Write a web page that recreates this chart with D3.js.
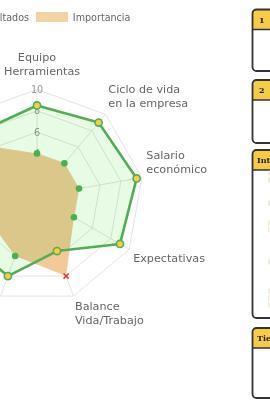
<!DOCTYPE html>
<html>
<head>
<meta charset="utf-8">
<script src="https://cdn.jsdelivr.net/npm/d3@7"></script>
<style>
  body { margin: 0; background: #fff; }
  svg { display: block; font-family: "DejaVu Sans", sans-serif; }
</style>
</head>
<body>
<div id="chart"></div>
<script>
// axis labels (one entry per line), clockwise from the top
const labels = [
  ["Equipo", "y Herramientas"],
  ["Ciclo de vida", "en la empresa"],
  ["Salario", "económico"],
  ["Expectativas"],
  ["Balance", "Vida/Trabajo"],
  ["Reconocimiento"],
  ["Ambiente", "laboral"],
  ["Desarrollo", "profesional"],
  ["Liderazgo"]
];
const resultados = [8.5, 9, 9.5, 9, 5.5, 8, 8, 9, 8];
const importancia = [4, 4, 4, 4, 8, 6, 5, 7, 6];
const tickValues = [2, 4, 6, 8, 10];
const seriesNames = ["Resultados", "Importancia"];
const cardTitles = ["1", "2", "Intereses", "Tiempo"];

const W = 270, H = 400;
const cx = 37, cy = 196, R = 106.5;

const svg = d3.select("#chart").append("svg")
    .attr("width", W)
    .attr("height", H);

const rScale = d3.scaleLinear().domain([0, 10]).range([0, R]);
const step = 2 * Math.PI / labels.length;
const angles = d3.range(labels.length).map(i => i * step);

const g = svg.append("g").attr("transform", `translate(${cx},${cy})`);

// grid rings
const ring = d3.lineRadial()
    .angle((d, i) => angles[i])
    .radius(d => rScale(d))
    .curve(d3.curveLinearClosed);

g.selectAll(".ring")
    .data(tickValues)
    .enter()
    .append("path")
    .attr("class", "ring")
    .attr("d", v => ring(angles.map(() => v)))
    .attr("fill", "none")
    .attr("stroke", "#e4e4e4")
    .attr("stroke-width", 1);

// angle lines
g.selectAll(".spoke")
    .data(angles)
    .enter()
    .append("line")
    .attr("x1", 0).attr("y1", 0)
    .attr("x2", a => rScale(10) * Math.sin(a))
    .attr("y2", a => -rScale(10) * Math.cos(a))
    .attr("stroke", "#e4e4e4")
    .attr("stroke-width", 1);

// tick labels (drawn under the data)
g.selectAll(".tick")
    .data(tickValues)
    .enter()
    .append("text")
    .attr("x", 0)
    .attr("y", v => -rScale(v))
    .attr("text-anchor", "middle")
    .attr("dominant-baseline", "central")
    .attr("font-size", "9.6px")
    .attr("fill", "#999")
    .text(v => v);

// point labels, placed like Chart.js does
const lineH = 14;
labels.forEach((lines, i) => {
  const deg = Math.round(angles[i] * 180 / Math.PI);
  const d = rScale(10) + 4.5 + (i === 0 ? 6 : 0);
  const px = d * Math.sin(angles[i]);
  const py = -d * Math.cos(angles[i]);
  const h = lines.length * lineH;
  let top = py;
  if (deg === 90 || deg === 270) top = py - h / 2;
  else if (deg > 270 || deg < 90) top = py - h;
  const anchor = (deg === 0 || deg === 180) ? "middle" : (deg < 180 ? "start" : "end");
  const t = g.append("text")
      .attr("text-anchor", anchor)
      .attr("font-size", "11.2px")
      .attr("fill", "#666");
  lines.forEach((ln, j) => {
    t.append("tspan")
        .attr("x", px)
        .attr("y", top + (j + 0.5) * lineH - 0.5)
        .attr("dominant-baseline", "central")
        .text(ln);
  });
});

const shape = d3.lineRadial()
    .angle((d, i) => angles[i])
    .radius(d => rScale(d))
    .curve(d3.curveLinearClosed);

// Importancia
g.append("path")
    .attr("d", shape(importancia))
    .attr("fill", "#f2ca9a")
    .attr("stroke", "none");

// Resultados
g.append("path")
    .attr("d", shape(resultados))
    .attr("fill", "#e8fbe5")
    .style("mix-blend-mode", "multiply")
    .attr("stroke", "none");
g.append("path")
    .attr("d", shape(resultados))
    .attr("fill", "none")
    .attr("stroke", "#54ac57")
    .attr("stroke-width", 2.6)
    .attr("stroke-linejoin", "round");

// importance points: green if met, red cross if not
importancia.forEach((v, i) => {
  const x = rScale(v) * Math.sin(angles[i]);
  const y = -rScale(v) * Math.cos(angles[i]);
  if (resultados[i] >= v) {
    g.append("circle")
        .attr("cx", x).attr("cy", y).attr("r", 3.3)
        .attr("fill", "#4caf50");
  } else {
    const s = 2.6;
    g.append("path")
        .attr("d", `M${x - s},${y - s}L${x + s},${y + s}M${x - s},${y + s}L${x + s},${y - s}`)
        .attr("stroke", "#e53935")
        .attr("stroke-width", 1.6);
  }
});

// result points
g.selectAll(".rpt")
    .data(resultados)
    .enter()
    .append("circle")
    .attr("cx", (v, i) => rScale(v) * Math.sin(angles[i]))
    .attr("cy", (v, i) => -rScale(v) * Math.cos(angles[i]))
    .attr("r", 3.6)
    .attr("fill", "#f5d03c")
    .attr("stroke", "#54ac57")
    .attr("stroke-width", 1.6);

// legend
const legend = svg.append("g").attr("font-size", "9.6px").attr("fill", "#666");
const boxW = 32, boxH = 10, legY = 12;
const legendFill = ["#e8fbe5", "#f2d3a6"];
const legendStroke = ["#54ac57", "none"];
const txt0 = legend.append("text").text(seriesNames[0]).attr("dominant-baseline", "central");
const w0 = txt0.node().getComputedTextLength();
const box1X = 36;
const txt0End = box1X - 7;
txt0.attr("x", txt0End - w0).attr("y", legY + boxH / 2);
legend.append("rect")
    .attr("x", txt0End - w0 - 4.8 - boxW).attr("y", legY)
    .attr("width", boxW).attr("height", boxH)
    .attr("fill", legendFill[0]).attr("stroke", legendStroke[0]);
legend.append("rect")
    .attr("x", box1X).attr("y", legY)
    .attr("width", boxW).attr("height", boxH)
    .attr("fill", legendFill[1]);
legend.append("text")
    .attr("x", box1X + boxW + 4.8).attr("y", legY + boxH / 2)
    .attr("dominant-baseline", "central")
    .text(seriesNames[1]);

// side cards (clipped by the page edge)
const cardTops = [9.5, 80, 150, 328];
const cardBottoms = [71, 143, 318, 398];
const cards = svg.append("g");
cardTitles.forEach((title, i) => {
  const x = 252.5, y = cardTops[i], h = cardBottoms[i] - cardTops[i];
  cards.append("rect")
      .attr("x", x).attr("y", y).attr("width", 60).attr("height", h)
      .attr("rx", 4).attr("fill", "#fff");
  cards.append("path")
      .attr("d", `M${x},${y + 20}V${y + 4}Q${x},${y} ${x + 4},${y}H${x + 60}V${y + 20}Z`)
      .attr("fill", "#f6cb47");
  cards.append("line")
      .attr("x1", x).attr("x2", x + 60).attr("y1", y + 20).attr("y2", y + 20)
      .attr("stroke", "#333").attr("stroke-width", 1.5);
  cards.append("rect")
      .attr("x", x).attr("y", y).attr("width", 60).attr("height", h)
      .attr("rx", 4).attr("fill", "none")
      .attr("stroke", "#333").attr("stroke-width", 1.8);
  cards.append("text")
      .attr("x", title.length === 1 ? 259 : 257).attr("y", y + 10)
      .attr("dominant-baseline", "central")
      .attr("font-family", "'DejaVu Serif', serif")
      .attr("font-weight", "bold")
      .attr("font-size", "8px")
      .attr("fill", "#222")
      .text(title);
});

// faint clipped text marks inside the third card
const markYs = [173, 180, 203, 223, 230, 262, 291, 298, 305];
cards.selectAll(".mark")
    .data(markYs)
    .enter()
    .append("rect")
    .attr("x", 268.5).attr("y", d => d - 2.5)
    .attr("width", 0.8).attr("height", 5)
    .attr("fill", "#e8cfae");
</script>
</body>
</html>
